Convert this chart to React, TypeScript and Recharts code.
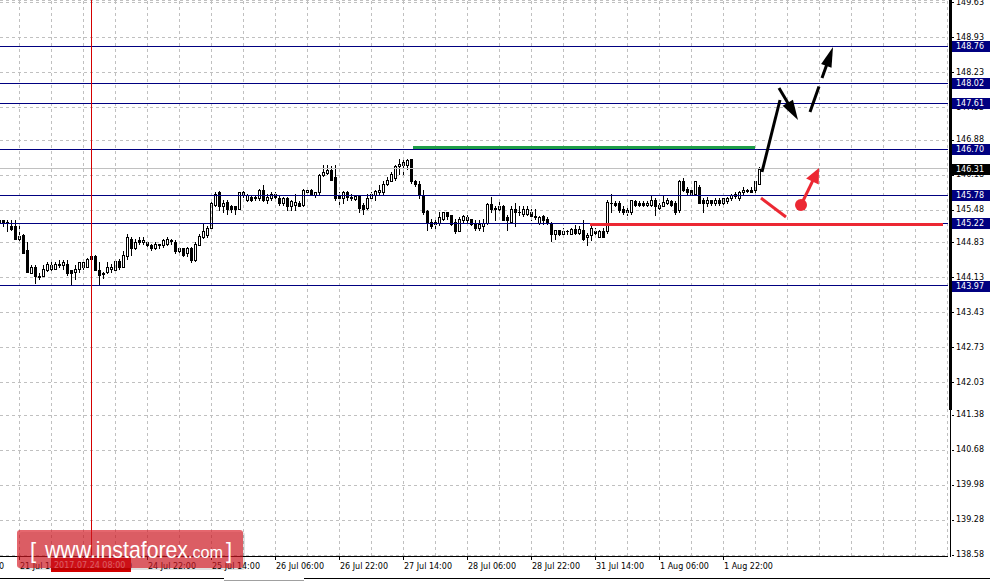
import React from 'react';
import {
  ComposedChart,
  Bar,
  XAxis,
  YAxis,
  CartesianGrid,
  ReferenceLine,
  ReferenceDot,
} from 'recharts';

// USDJPY-style H1 candles, index 0 = 21 Jul 09:00
const opens = [
  145.25, 145.27, 145.25, 145.17, 145.15, 144.9, 144.98, 144.68, 144.23, 144.33,
  144.17, 144.16, 144.28, 144.31, 144.31, 144.39, 144.38, 144.41, 144.27, 144.25,
  144.31, 144.33, 144.35, 144.56, 144.57, 144.28, 144.2, 144.25, 144.3, 144.28,
  144.46, 144.35, 144.55, 144.91, 144.71, 144.88, 144.85, 144.83, 144.78, 144.71,
  144.79, 144.79, 144.81, 144.88, 144.83, 144.65, 144.71, 144.61, 144.73, 144.48,
  144.79, 144.94, 144.98, 145.12, 145.58, 145.83, 145.55, 145.65, 145.56, 145.55,
  145.51, 145.85, 145.68, 145.75, 145.74, 145.71, 145.89, 145.68, 145.71, 145.81,
  145.71, 145.61, 145.71, 145.55, 145.58, 145.61, 145.58, 145.83, 145.89, 145.78,
  145.83, 146.18, 146.23, 146.28, 146.15, 145.78, 145.73, 145.85, 145.75, 145.7,
  145.76, 145.58, 145.53, 145.71, 145.78, 145.83, 145.85, 146.01, 146.07, 146.12,
  146.36, 146.38, 146.38, 146.5, 146.05, 146.0, 145.78, 145.46, 145.25, 145.25,
  145.23, 145.31, 145.43, 145.38, 145.25, 145.07, 145.29, 145.35, 145.31, 145.23,
  145.13, 145.16, 145.21, 145.6, 145.53, 145.49, 145.56, 145.35, 145.25, 145.51,
  145.45, 145.4, 145.4, 145.43, 145.36, 145.23, 145.36, 145.31, 145.21, 145.01,
  145.08, 145.0, 145.05, 145.01, 145.1, 145.03, 145.09, 144.93, 144.98, 145.07,
  144.95, 145.07, 145.05, 145.63, 145.63, 145.61, 145.51, 145.43, 145.43, 145.67,
  145.63, 145.63, 145.58, 145.58, 145.69, 145.53, 145.56, 145.63, 145.67, 145.63,
  145.48, 146.05, 145.91, 145.89, 145.81, 145.95, 145.69, 145.61, 145.68, 145.61,
  145.69, 145.61, 145.65, 145.71, 145.76, 145.71, 145.83, 145.89, 145.89, 145.88,
  146.01,
];
const highs = [
  145.31, 145.29, 145.29, 145.29, 145.29, 145.17, 144.99, 144.83, 144.38, 144.38,
  144.21, 144.38, 144.45, 144.45, 144.45, 144.48, 144.48, 144.48, 144.28, 144.38,
  144.45, 144.48, 144.53, 144.58, 144.59, 144.45, 144.25, 144.45, 144.41, 144.51,
  144.51, 144.65, 144.99, 144.95, 144.91, 144.93, 144.93, 144.86, 144.81, 144.83,
  144.81, 144.91, 144.95, 144.91, 144.88, 144.75, 144.73, 144.75, 144.75, 144.85,
  145.01, 145.2, 145.16, 145.65, 145.85, 145.86, 145.68, 145.68, 145.58, 145.56,
  145.85, 145.87, 145.81, 145.76, 145.76, 145.91, 145.98, 145.81, 145.83, 145.83,
  145.76, 145.75, 145.75, 145.69, 145.81, 145.65, 145.91, 145.93, 145.91, 145.85,
  146.2, 146.38, 146.38, 146.36, 146.38, 145.83, 145.87, 145.87, 145.8, 145.78,
  145.78, 145.61, 145.81, 145.83, 145.89, 145.98, 146.07, 146.15, 146.25, 146.38,
  146.49, 146.49, 146.51, 146.51, 146.09, 146.05, 145.88, 145.48, 145.31, 145.31,
  145.43, 145.45, 145.44, 145.39, 145.31, 145.35, 145.38, 145.38, 145.31, 145.28,
  145.29, 145.31, 145.61, 145.75, 145.55, 145.67, 145.58, 145.38, 145.55, 145.63,
  145.56, 145.55, 145.56, 145.51, 145.51, 145.36, 145.38, 145.35, 145.25, 145.09,
  145.09, 145.11, 145.09, 145.11, 145.18, 145.15, 145.27, 145.03, 145.16, 145.11,
  145.09, 145.11, 145.68, 145.81, 145.65, 145.65, 145.55, 145.55, 145.69, 145.68,
  145.65, 145.65, 145.67, 145.76, 145.71, 145.61, 145.78, 145.71, 145.69, 145.65,
  146.08, 146.13, 145.95, 145.91, 146.07, 145.98, 145.71, 145.75, 145.69, 145.71,
  145.73, 145.73, 145.75, 145.81, 145.85, 145.87, 145.95, 145.91, 145.93, 146.07,
  146.33,
];
const lows = [
  145.21, 145.17, 145.07, 145.08, 144.9, 144.88, 144.61, 144.25, 144.21, 144.03,
  144.1, 144.15, 144.26, 144.26, 144.3, 144.35, 144.31, 144.18, 144.0, 144.1,
  144.25, 144.3, 144.33, 144.48, 144.28, 143.98, 144.11, 144.21, 144.25, 144.25,
  144.31, 144.33, 144.51, 144.58, 144.7, 144.81, 144.81, 144.75, 144.68, 144.7,
  144.73, 144.75, 144.78, 144.81, 144.61, 144.61, 144.55, 144.55, 144.43, 144.46,
  144.78, 144.92, 144.94, 145.08, 145.55, 145.48, 145.45, 145.41, 145.45, 145.41,
  145.49, 145.75, 145.67, 145.67, 145.69, 145.68, 145.67, 145.61, 145.68, 145.71,
  145.58, 145.58, 145.48, 145.48, 145.48, 145.55, 145.55, 145.78, 145.78, 145.75,
  145.81, 146.16, 146.2, 146.08, 145.69, 145.58, 145.61, 145.69, 145.68, 145.68,
  145.45, 145.41, 145.51, 145.68, 145.69, 145.78, 145.81, 145.98, 146.05, 146.09,
  146.2, 146.2, 146.31, 146.03, 145.96, 145.73, 145.41, 145.09, 145.13, 145.11,
  145.18, 145.28, 145.31, 145.18, 145.03, 145.05, 145.25, 145.25, 145.18, 145.08,
  145.09, 145.07, 145.2, 145.45, 145.28, 145.45, 145.28, 145.09, 145.23, 145.16,
  145.38, 145.36, 145.38, 145.27, 145.31, 145.2, 145.2, 145.2, 144.87, 144.91,
  144.98, 144.98, 145.0, 145.0, 145.0, 145.0, 144.89, 144.78, 144.89, 144.98,
  144.93, 144.93, 145.03, 145.45, 145.55, 145.45, 145.4, 145.38, 145.4, 145.55,
  145.55, 145.55, 145.55, 145.55, 145.38, 145.51, 145.55, 145.6, 145.55, 145.41,
  145.45, 145.87, 145.81, 145.78, 145.79, 145.61, 145.43, 145.55, 145.58, 145.58,
  145.58, 145.6, 145.63, 145.69, 145.73, 145.69, 145.8, 145.83, 145.83, 145.85,
  146.0,
];
const closes = [
  145.28, 145.23, 145.21, 145.1, 144.9, 144.97, 144.61, 144.25, 144.33, 144.16,
  144.14, 144.31, 144.4, 144.39, 144.41, 144.41, 144.45, 144.21, 144.23, 144.31,
  144.43, 144.43, 144.51, 144.51, 144.28, 144.18, 144.22, 144.33, 144.35, 144.46,
  144.33, 144.58, 144.93, 144.71, 144.85, 144.85, 144.89, 144.78, 144.71, 144.81,
  144.8, 144.88, 144.9, 144.86, 144.65, 144.71, 144.58, 144.73, 144.48, 144.81,
  144.97, 145.06, 145.12, 145.62, 145.81, 145.55, 145.63, 145.51, 145.49, 145.51,
  145.83, 145.78, 145.78, 145.68, 145.71, 145.88, 145.68, 145.75, 145.8, 145.75,
  145.61, 145.71, 145.55, 145.65, 145.65, 145.56, 145.88, 145.89, 145.8, 145.83,
  146.18, 146.25, 146.29, 146.09, 145.71, 145.71, 145.85, 145.75, 145.71, 145.76,
  145.53, 145.51, 145.71, 145.8, 145.87, 145.89, 146.01, 146.09, 146.2, 146.36,
  146.41, 146.43, 146.48, 146.05, 145.99, 145.78, 145.43, 145.21, 145.17, 145.2,
  145.35, 145.43, 145.36, 145.2, 145.05, 145.3, 145.36, 145.27, 145.2, 145.11,
  145.2, 145.23, 145.6, 145.49, 145.51, 145.56, 145.29, 145.27, 145.51, 145.43,
  145.43, 145.51, 145.51, 145.36, 145.33, 145.35, 145.28, 145.23, 145.0, 145.08,
  145.01, 145.07, 145.07, 145.1, 145.03, 145.1, 144.91, 144.98, 145.11, 145.03,
  145.07, 144.95, 145.65, 145.61, 145.58, 145.48, 145.43, 145.48, 145.68, 145.58,
  145.58, 145.58, 145.63, 145.68, 145.55, 145.58, 145.65, 145.69, 145.58, 145.45,
  146.05, 145.89, 145.85, 145.81, 146.05, 145.63, 145.63, 145.69, 145.61, 145.68,
  145.61, 145.71, 145.71, 145.78, 145.81, 145.85, 145.89, 145.87, 145.85, 146.05,
  146.31,
];

const timeTicks = [-11, 5, 21, 37, 53, 69, 85, 101, 117, 133, 149, 165, 181];
const timeLabels = [
  '20 Jul 22:00', '21 Jul 14:00', '24 Jul 06:00', '24 Jul 22:00', '25 Jul 14:00',
  '26 Jul 06:00', '26 Jul 22:00', '27 Jul 14:00', '28 Jul 06:00', '28 Jul 22:00',
  '31 Jul 14:00', '1 Aug 06:00', '1 Aug 22:00',
];
const gridCandles = [
  5, 13, 21, 29, 37, 45, 53, 61, 69, 77, 85, 93, 101, 109, 117, 125, 133, 141,
  149, 157, 165, 173, 181, 189, 197, 205, 213, 221, 229, 237,
];
const priceTicks = [
  149.63, 148.93, 148.23, 147.53, 146.88, 146.18, 145.48, 144.83, 144.13,
  143.43, 142.73, 142.03, 141.38, 140.68, 139.98, 139.28, 138.58,
];
const levels = [148.76, 148.02, 147.61, 146.7, 145.78, 145.22, 143.97];
const bidPrice = 146.31;
const cursorCandle = 23;
const cursorText = '2017.07.24 08:00';

// drawn objects: [candle index, price]
const resistanceLine = [[103.5, 146.73], [189, 146.73]];
const supportLine = [[147.75, 145.19], [236, 145.19]];
const blackUp = [[190.75, 146.24], [195.25, 147.68]];
const blackDown = [[195, 147.92], [199.75, 147.28]];
const blackTarget = [[202.75, 147.44], [208.5, 148.74]];
const redDown = [[190.5, 145.72], [196.75, 145.34]];
const redUp = [[200.5, 145.58], [205, 146.32]];

const W = 990;
const H = 582;
const PLOT_W = 948;
const PLOT_H = 556;
const FONT = '"DejaVu Sans", Tahoma, sans-serif';
const X_DOMAIN: [number, number] = [0.25, 237.25];
const Y_DOMAIN: [number, number] = [138.56, 149.68];
const FRAME_BREAK = 141.48;

const candles = opens.map((o, i) => ({
  k: i,
  o,
  h: highs[i],
  l: lows[i],
  c: closes[i],
  range: [lows[i], highs[i]],
}));

const Candle = (props: any) => {
  const { x, y, width, height, payload } = props;
  if (x == null || !payload) return null;
  const { o, h, l, c } = payload;
  const top = Math.min(y, y + height);
  const span = Math.abs(height);
  const py = (v: number) => (h === l ? top : top + ((h - v) / (h - l)) * span);
  const cx = Math.round(x + width / 2) + 0.5;
  const yh = Math.round(py(h));
  const yl = Math.round(py(l));
  const yo = Math.round(py(o));
  const yc = Math.round(py(c));
  const bTop = Math.min(yo, yc);
  const bBot = Math.max(yo, yc);
  let body;
  if (bBot - bTop < 1) {
    body = <line x1={cx - 1.5} x2={cx + 1.5} y1={bTop + 0.5} y2={bTop + 0.5} stroke="#000" />;
  } else if (c >= o) {
    body = <rect x={cx - 1} y={bTop + 0.5} width={2} height={bBot - bTop} fill="#fff" stroke="#000" />;
  } else {
    body = <rect x={cx - 1.5} y={bTop} width={3} height={bBot - bTop + 1} fill="#000" />;
  }
  return (
    <g>
      <line x1={cx} x2={cx} y1={yh} y2={yl + 1} stroke="#000" />
      {body}
    </g>
  );
};

const PriceTick = (props: any) => {
  const { y, payload } = props;
  return (
    <g>
      <line x1={PLOT_W + 4} x2={PLOT_W + 6} y1={y} y2={y} stroke="#000" />
      <text x={PLOT_W + 8} y={y + 2} fontSize={8} fontFamily={FONT} fill="#000">
        {Number(payload.value).toFixed(2)}
      </text>
    </g>
  );
};

// price tags of the drawn levels, sit on top of the price scale
const TagTick = (props: any) => {
  const { y, payload } = props;
  const v = Number(payload.value);
  const yy = Math.round(y);
  return (
    <g>
      <rect x={PLOT_W + 4} y={yy - 5} width={W - PLOT_W - 4} height={11} fill={v === bidPrice ? '#000' : '#000080'} />
      <text x={PLOT_W + 8} y={yy + 3} fontSize={8} fontFamily={FONT} fill="#fff">
        {v.toFixed(2)}
      </text>
    </g>
  );
};

const TimeTick = (props: any) => {
  const { x, payload } = props;
  const label = timeLabels[timeTicks.indexOf(payload.value)];
  return (
    <g>
      <line x1={x} x2={x} y1={PLOT_H + 1} y2={PLOT_H + 4} stroke="#000" />
      <text x={x + 1} y={PLOT_H + 13} fontSize={8} fontFamily={FONT} fill="#000">
        {label}
      </text>
    </g>
  );
};

const CursorTick = (props: any) => {
  const { x } = props;
  const cx = Math.round(x);
  return (
    <g>
      <rect x={cx - 40} y={PLOT_H + 2} width={80} height={14} fill="#d40000" />
      <text x={cx - 37} y={PLOT_H + 12} fontSize={8} fontFamily={FONT} fill="#fff">
        {cursorText}
      </text>
    </g>
  );
};

const arrow =
  (color: string, w: number, headLen: number, headHalf: number, dash?: string) =>
  (p: any) => {
    const { x1, y1, x2, y2 } = p;
    if (x1 == null) return null;
    const dx = x2 - x1;
    const dy = y2 - y1;
    const len = Math.hypot(dx, dy) || 1;
    const ux = dx / len;
    const uy = dy / len;
    const bx = x2 - ux * headLen;
    const by = y2 - uy * headLen;
    const ex = headLen ? bx + ux * 2 : x2;
    const ey = headLen ? by + uy * 2 : y2;
    return (
      <g>
        <path d={`M${x1},${y1}L${ex},${ey}`} stroke={color} strokeWidth={w} strokeDasharray={dash} fill="none" />
        {headLen > 0 && (
          <path
            d={`M${x2},${y2}L${bx - uy * headHalf},${by + ux * headHalf}L${bx + uy * headHalf},${by - ux * headHalf}Z`}
            fill={color}
          />
        )}
      </g>
    );
  };

const frameBar = (p: any) => {
  const { x1, y1, y2 } = p;
  if (x1 == null) return null;
  return <rect x={Math.round(x1) + 1} y={Math.min(y1, y2)} width={3} height={Math.abs(y2 - y1)} fill="#000" />;
};

const frameLine = (p: any) => {
  const { x1, y1, y2 } = p;
  if (x1 == null) return null;
  return <rect x={Math.round(x1) + 2} y={Math.min(y1, y2)} width={1} height={Math.abs(y2 - y1) + 1} fill="#000" />;
};

const seg = (pts: number[][]) => pts.map(([x, y]) => ({ x, y }));

const App: React.FC = () => {
  return (
    <div
      className="mt4"
      style={{ position: 'absolute', left: 0, top: 0, width: W, height: H, background: '#fff', overflow: 'hidden' }}
    >
      <style>{'.mt4 line{shape-rendering:crispEdges}'}</style>
      <ComposedChart width={W} height={H} data={candles} margin={{ top: 0, right: 0, bottom: 0, left: 0 }}>
        <CartesianGrid vertical={false} stroke="#c0c0c0" strokeDasharray="3 3" />
        <XAxis
          dataKey="k"
          type="number"
          domain={X_DOMAIN}
          allowDataOverflow
          ticks={timeTicks}
          interval={0}
          tick={<TimeTick />}
          tickLine={false}
          axisLine={{ stroke: '#000' }}
          height={25}
        />
        <XAxis
          xAxisId="cursor"
          dataKey="k"
          type="number"
          domain={X_DOMAIN}
          allowDataOverflow
          ticks={[cursorCandle]}
          interval={0}
          tick={<CursorTick />}
          tickLine={false}
          axisLine={false}
          height={1}
        />
        <YAxis
          orientation="right"
          type="number"
          domain={Y_DOMAIN}
          allowDataOverflow
          ticks={priceTicks}
          interval={0}
          tick={<PriceTick />}
          tickLine={false}
          axisLine={false}
          width={41}
        />
        <YAxis
          yAxisId="tags"
          orientation="right"
          type="number"
          domain={Y_DOMAIN}
          allowDataOverflow
          ticks={[...levels, bidPrice]}
          interval={0}
          tick={<TagTick />}
          tickLine={false}
          axisLine={false}
          width={1}
        />
        {gridCandles.map((k) => (
          <ReferenceLine key={`g${k}`} x={k} stroke="#c0c0c0" strokeDasharray="3 3" />
        ))}
        <ReferenceLine y={bidPrice} stroke="#c0c0c0" />
        {levels.map((v) => (
          <ReferenceLine key={`l${v}`} y={v} stroke="#000080" />
        ))}
        <ReferenceLine x={cursorCandle} stroke="#d40000" />
        <Bar dataKey="range" barSize={3} isAnimationActive={false} shape={Candle} />
        <ReferenceLine segment={seg(resistanceLine)} stroke="#1f9e48" strokeWidth={3} ifOverflow="visible" />
        <ReferenceLine segment={seg(supportLine)} stroke="#ec2833" strokeWidth={3.5} ifOverflow="visible" />
        <ReferenceLine segment={seg(blackUp)} ifOverflow="visible" shape={arrow('#000', 3, 0, 0)} />
        <ReferenceLine segment={seg(blackDown)} ifOverflow="visible" shape={arrow('#000', 3, 20, 6)} />
        <ReferenceLine segment={seg(blackTarget)} ifOverflow="visible" shape={arrow('#000', 3, 20, 5.5, '27 9')} />
        <ReferenceLine segment={seg(redDown)} ifOverflow="visible" shape={arrow('#ec2833', 3, 0, 0)} />
        <ReferenceLine segment={seg(redUp)} ifOverflow="visible" shape={arrow('#ec2833', 3, 15, 7)} />
        <ReferenceDot x={redUp[0][0]} y={redUp[0][1]} r={6} fill="#ec2833" stroke="none" ifOverflow="visible" />
        <ReferenceLine
          segment={[{ x: X_DOMAIN[1], y: Y_DOMAIN[1] }, { x: X_DOMAIN[1], y: FRAME_BREAK }]}
          ifOverflow="visible"
          shape={frameBar}
        />
        <ReferenceLine
          segment={[{ x: X_DOMAIN[1], y: FRAME_BREAK }, { x: X_DOMAIN[1], y: Y_DOMAIN[0] }]}
          ifOverflow="visible"
          shape={frameLine}
        />
      </ComposedChart>
      <svg width={W} height={H} style={{ position: 'absolute', left: 0, top: 0, pointerEvents: 'none' }}>
        <rect x={19} y={532} width={226} height={38} rx={3} fill="rgba(0,0,0,0.12)" />
        <rect x={17} y={530} width={226} height={38} rx={3} fill="rgba(215,25,35,0.66)" />
        <text x={30} y={558} fontSize={22} fontFamily="'Liberation Sans', Arial, sans-serif" fill="#fff">
          [
        </text>
        <text
          x={45}
          y={558}
          fontSize={24}
          fontFamily="'Liberation Sans', Arial, sans-serif"
          fill="#fff"
          textLength={143}
          lengthAdjust="spacingAndGlyphs"
        >
          www.instaforex
        </text>
        <text
          x={188}
          y={558}
          fontSize={17}
          fontFamily="'Liberation Sans', Arial, sans-serif"
          fill="#fff"
          textLength={35}
          lengthAdjust="spacingAndGlyphs"
        >
          .com
        </text>
        <text x={226} y={558} fontSize={22} fontFamily="'Liberation Sans', Arial, sans-serif" fill="#fff">
          ]
        </text>
        <line x1={0} x2={224} y1={578.5} y2={578.5} stroke="#000" />
        <line x1={224} x2={304} y1={580.5} y2={580.5} stroke="#a0a0a0" />
        <line x1={304} x2={W} y1={578.5} y2={578.5} stroke="#000" />
      </svg>
    </div>
  );
};

export default App;
